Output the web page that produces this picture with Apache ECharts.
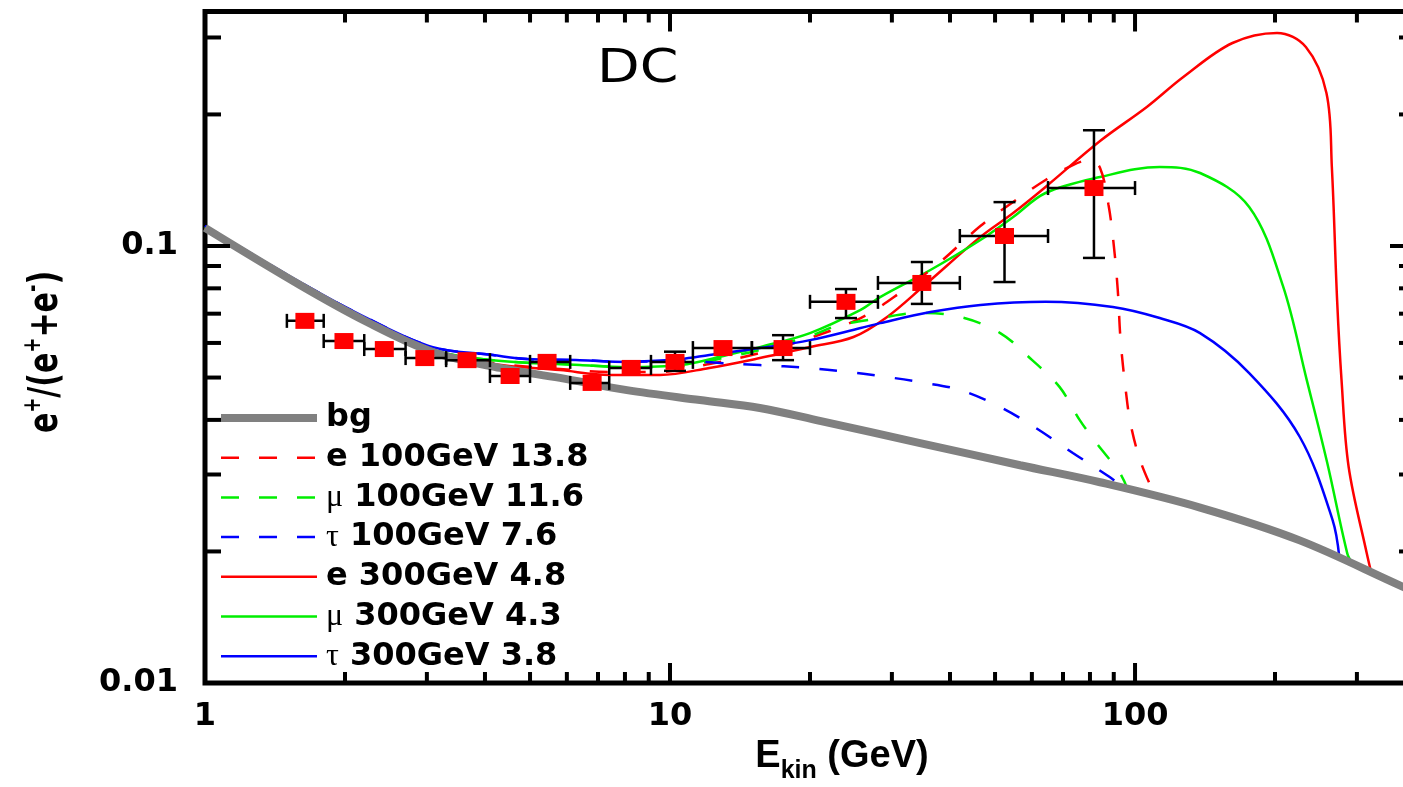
<!DOCTYPE html>
<html>
<head>
<meta charset="utf-8">
<script src="https://cdn.jsdelivr.net/npm/echarts@6.0.0/dist/echarts.min.js"></script>
<style>
html,body{margin:0;padding:0;background:#ffffff;}
#chart{width:1403px;height:787px;}
</style>
</head>
<body>
<div id="chart"></div>
<script>
// ---------------- DATA ----------------
const X_MIN = 1, X_MAX = 400;
const Y_MIN = 0.01, Y_MAX = 0.344;

const xTicksMajor = [10, 100];
const xTicksMinor = [2, 3, 4, 5, 6, 7, 8, 9, 20, 30, 40, 50, 60, 70, 80, 90, 200, 300];
const yTicksMajor = [0.1];
const yTicksMinor = [0.02, 0.03, 0.04, 0.05, 0.06, 0.07, 0.08, 0.09, 0.2, 0.3];

// measured positron fraction (red squares)
const dataE  = [1.64, 1.99, 2.43, 2.97, 3.66, 4.53, 5.44, 6.8, 8.25, 10.25, 13.0, 17.5, 23.9, 34.8, 52.4, 81.6];
const dataV  = [0.0674, 0.0606, 0.0581, 0.0554, 0.0548, 0.0504, 0.0543, 0.0486, 0.0526, 0.0543, 0.0584, 0.0584, 0.0745, 0.0823, 0.1054, 0.1357];
const binLo  = [1.5, 1.8, 2.2, 2.7, 3.3, 4.1, 5.0, 6.1, 7.4, 9.1, 11.2, 15, 20, 28, 42, 65];
const binHi  = [1.8, 2.2, 2.7, 3.3, 4.1, 5.0, 6.1, 7.4, 9.1, 11.2, 15, 20, 28, 42, 65, 100];
const errLo  = [0.0660, 0.0593, 0.0568, 0.0541, 0.0535, 0.0492, 0.0530, 0.0474, 0.0513, 0.0518, 0.0562, 0.0548, 0.0684, 0.0737, 0.0827, 0.0939];
const errHi  = [0.0688, 0.0619, 0.0594, 0.0567, 0.0561, 0.0516, 0.0556, 0.0498, 0.0539, 0.0573, 0.0606, 0.0625, 0.0797, 0.0919, 0.1260, 0.1840];

// model curves [E (GeV), e+/(e+ + e-)]
const bgCurve = [[1,0.1100],[1.6,0.0814],[2.23,0.0670],[3.09,0.0572],[4.31,0.0526],[5.8,0.0499],[8.08,0.0468],[11.6,0.0444],[15.6,0.0426],[21.0,0.0398],[34.5,0.0354],[56.6,0.0315],[84.1,0.0288],[138,0.0252],[226,0.0212],[377,0.0166],[400,0.0162]];
const e100Curve = [[1,0.1100],[1.6,0.0814],[2.23,0.0674],[3.09,0.0575],[4.16,0.0540],[5.8,0.0523],[7.42,0.0515],[9.51,0.0515],[12.15,0.0537],[15.6,0.0569],[20.0,0.0616],[25.7,0.0684],[31.2,0.0781],[38.1,0.0919],[46.5,0.1111],[54.7,0.1261],[64.2,0.1416],[73.5,0.1532],[79.9,0.1573],[84.1,0.1509],[87.7,0.1241],[90.0,0.1005],[91.8,0.0793],[93.1,0.0609],[95.5,0.0468],[97.9,0.0390],[102.9,0.0320],[110.5,0.0268]];
const mu100Curve = [[1,0.1105],[1.6,0.0818],[2.23,0.0677],[3.09,0.0578],[4.16,0.0548],[6.4,0.0534],[8.08,0.0528],[10.54,0.0531],[13.27,0.0557],[15.6,0.0578],[20.0,0.0622],[22.8,0.0656],[28.3,0.0684],[34.5,0.0703],[42.1,0.0688],[51.3,0.0632],[60.1,0.0548],[68.8,0.0476],[76.0,0.0400],[82.6,0.0354],[92.8,0.0302],[96.3,0.0278]];
const tau100Curve = [[1,0.1111],[1.6,0.0827],[2.23,0.0684],[3.09,0.0587],[4.16,0.0563],[4.93,0.0551],[6.4,0.0548],[8.08,0.0543],[10.54,0.0546],[12.8,0.0540],[15.6,0.0534],[19.8,0.0526],[24.0,0.0515],[28.3,0.0504],[34.5,0.0488],[42.1,0.0468],[51.3,0.0428],[61.3,0.0383],[73.5,0.0336],[88.2,0.0296],[94.0,0.0281]];
const e300Curve = [[1,0.1100],[1.6,0.0814],[2.23,0.0674],[3.09,0.0575],[4.16,0.0537],[5.8,0.0520],[7.42,0.0507],[9.51,0.0507],[12.15,0.0526],[15.6,0.0554],[20.0,0.0587],[24.8,0.0619],[29.3,0.0688],[35.3,0.0814],[46.5,0.1049],[54.7,0.1190],[64.2,0.1365],[84.1,0.1739],[106,0.2080],[127,0.2436],[162,0.2914],[202,0.3073],[233,0.2853],[258,0.2239],[265,0.1516],[272,0.0752],[278,0.0494],[288,0.0312],[315,0.0198],[322,0.0179]];
const mu300Curve = [[1,0.1105],[1.6,0.0818],[2.23,0.0677],[3.09,0.0578],[4.16,0.0548],[6.4,0.0534],[8.08,0.0528],[10.54,0.0534],[13.27,0.0563],[15.6,0.0587],[20.0,0.0632],[25.7,0.0714],[28.3,0.0764],[36.3,0.0881],[46.5,0.1032],[54.7,0.1165],[64.2,0.1322],[84.1,0.1438],[113,0.1516],[138,0.1469],[176,0.1228],[208,0.0810],[234,0.0494],[259,0.0319],[286,0.0198],[293,0.0188]];
const tau300Curve = [[1,0.1111],[1.6,0.0827],[2.23,0.0684],[3.09,0.0587],[4.16,0.0563],[4.93,0.0551],[6.4,0.0548],[8.08,0.0543],[10.54,0.0551],[12.15,0.0563],[15.6,0.0584],[20.0,0.0609],[25.7,0.0649],[28.3,0.0666],[36.3,0.0706],[46.5,0.0733],[64.2,0.0745],[89.6,0.0725],[113,0.0684],[138,0.0632],[176,0.0512],[226,0.0366],[266,0.0236],[275,0.0194]];

const seriesNames = ['bg', 'e 100GeV 13.8', 'μ 100GeV 11.6', 'τ 100GeV 7.6', 'e 300GeV 4.8', 'μ 300GeV 4.3', 'τ 300GeV 3.8'];
const titleText = 'DC';

// ---------------- CHART ----------------
const chart = echarts.init(document.getElementById('chart'), null, {renderer: 'canvas'});

const RED = '#ff0000', GREEN = '#00ee00', BLUE = '#0000ff', GRAY = '#808080';
const BOLD_FONT = 'DejaVu Sans';

function curve(name, data, color, dashed, z) {
  return {
    name: name, type: 'line', data: data, symbol: 'none', showSymbol: false, smooth: 0.35,
    silent: true, z: z,
    lineStyle: {color: color, width: 2.5, type: dashed ? [18, 20] : 'solid'},
    itemStyle: {color: color}
  };
}

function isPow10(v) {
  const l = Math.log10(v);
  return Math.abs(l - Math.round(l)) < 1e-6;
}

const errData = dataE.map((e, i) => [e, dataV[i], binLo[i], binHi[i], errLo[i], errHi[i]]);
const xTickData = xTicksMinor.map(t => [t, Y_MIN, 0]).concat(xTicksMajor.map(t => [t, Y_MIN, 1]));
const yTickData = yTicksMinor.map(t => [X_MIN, t, 0]).concat(yTicksMajor.map(t => [X_MIN, t, 1]));

const option = {
  animation: false,
  backgroundColor: '#ffffff',
  grid: {left: 205, right: -12, top: 11.5, bottom: 104, show: true, borderColor: '#000', borderWidth: 5,
         backgroundColor: 'transparent', outerBoundsMode: 'none', containLabel: false},
  xAxis: {
    type: 'log', logBase: 10, min: X_MIN, max: X_MAX,
    axisLine: {show: false}, axisTick: {show: false}, splitLine: {show: false}, minorTick: {show: false},
    axisLabel: {
      margin: 18, color: '#000', fontFamily: BOLD_FONT, fontWeight: 'bold', fontSize: 32,
      formatter: v => isPow10(v) ? String(Math.round(v)) : ''
    },
    name: '{b|E}{s|kin}{b| (GeV)}',
    nameLocation: 'middle', nameGap: 44,
    nameTextStyle: {
      padding: [0, 0, 0, 64],
      rich: {
        b: {fontFamily: 'Liberation Sans', fontWeight: 'bold', fontSize: 38, color: '#000', lineHeight: 54},
        s: {fontFamily: 'Liberation Sans', fontWeight: 'bold', fontSize: 25, color: '#000', lineHeight: 54, verticalAlign: 'bottom'}
      }
    }
  },
  yAxis: {
    type: 'log', logBase: 10, min: Y_MIN, max: Y_MAX,
    axisLine: {show: false}, axisTick: {show: false}, splitLine: {show: false}, minorTick: {show: false},
    axisLabel: {
      margin: 27, color: '#000', fontFamily: BOLD_FONT, fontWeight: 'bold', fontSize: 32,
      formatter: v => isPow10(v) ? String(+v.toPrecision(2)) : ''
    }
  },
  legend: {
    orient: 'vertical', left: 217, top: 402, padding: 0, itemWidth: 96, itemHeight: 14, itemGap: 7.7,
    selectedMode: false,
    itemStyle: {opacity: 0},
    lineStyle: {width: 'inherit'},
    data: seriesNames,
    formatter: name => {
      const first = name.charAt(0);
      if (first === 'μ' || first === 'τ') return '{g|' + first + '}{b|' + name.slice(1) + '}';
      return '{b|' + name + '}';
    },
    textStyle: {
      padding: [0, 0, 0, 4],
      rich: {
        b: {fontFamily: BOLD_FONT, fontWeight: 'bold', fontSize: 32, color: '#000', lineHeight: 30},
        g: {fontFamily: 'Liberation Serif', fontWeight: 'normal', fontSize: 32, color: '#000', lineHeight: 30}
      }
    }
  },
  graphic: [
    {type: 'text', x: 597, y: 70, scaleX: 1.18, silent: true,
     style: {text: titleText, font: 'normal 47px "DejaVu Sans"', fill: '#000', align: 'left', verticalAlign: 'middle'}},
    {type: 'text', x: 46, y: 352, rotation: Math.PI / 2, scaleY: 1.35, silent: true,
     style: {
       text: '{b|e}{p|+}{b|/(e}{p|+}{b|+e}{p|-}{b|)}', align: 'center', verticalAlign: 'middle',
       rich: {
         b: {fontFamily: BOLD_FONT, fontWeight: 'bold', fontSize: 30, fill: '#000', lineHeight: 36},
         p: {fontFamily: BOLD_FONT, fontWeight: 'bold', fontSize: 18, fill: '#000', lineHeight: 36, verticalAlign: 'top'}
       }
     }}
  ],
  series: [
    Object.assign(curve(seriesNames[0], bgCurve, GRAY, false, 4), {lineStyle: {color: GRAY, width: 8}}),
    curve(seriesNames[1], e100Curve, RED, true, 3),
    curve(seriesNames[2], mu100Curve, GREEN, true, 3),
    curve(seriesNames[3], tau100Curve, BLUE, true, 3),
    curve(seriesNames[4], e300Curve, RED, false, 2),
    curve(seriesNames[5], mu300Curve, GREEN, false, 2),
    curve(seriesNames[6], tau300Curve, BLUE, false, 3),
    {
      name: 'errors', type: 'custom', silent: true, z: 6, encode: {x: 0, y: 1},
      data: errData,
      renderItem: function (params, api) {
        const E = api.value(0), v = api.value(1);
        const pL = api.coord([api.value(2), v]), pR = api.coord([api.value(3), v]);
        const pB = api.coord([E, api.value(4)]), pT = api.coord([E, api.value(5)]);
        const st = {stroke: '#000', lineWidth: 2.5};
        const ch = [
          {type: 'line', shape: {x1: pL[0], y1: pL[1], x2: pR[0], y2: pR[1]}, style: st},
          {type: 'line', shape: {x1: pL[0], y1: pL[1] - 7, x2: pL[0], y2: pL[1] + 7}, style: st},
          {type: 'line', shape: {x1: pR[0], y1: pR[1] - 7, x2: pR[0], y2: pR[1] + 7}, style: st}
        ];
        if (pB[1] - pT[1] > 16) {
          ch.push({type: 'line', shape: {x1: pB[0], y1: pB[1], x2: pT[0], y2: pT[1]}, style: st});
          ch.push({type: 'line', shape: {x1: pT[0] - 11, y1: pT[1], x2: pT[0] + 11, y2: pT[1]}, style: st});
          ch.push({type: 'line', shape: {x1: pB[0] - 11, y1: pB[1], x2: pB[0] + 11, y2: pB[1]}, style: st});
        }
        return {type: 'group', children: ch};
      }
    },
    {
      name: 'data', type: 'scatter', silent: true, z: 7,
      data: dataE.map((e, i) => [e, dataV[i]]),
      symbol: 'rect', symbolSize: [19, 16],
      itemStyle: {color: RED, opacity: 1}
    },
    {
      name: 'xticks', type: 'custom', silent: true, z: 8, encode: {x: 0, y: 1},
      data: xTickData,
      renderItem: function (params, api) {
        const t = api.value(0), major = api.value(2);
        const pB = api.coord([t, Y_MIN]), pT = api.coord([t, Y_MAX]);
        const len = major ? 20 : 11;
        const st = {stroke: '#000', lineWidth: 4};
        return {type: 'group', children: [
          {type: 'line', shape: {x1: pB[0], y1: pB[1], x2: pB[0], y2: pB[1] - len}, style: st},
          {type: 'line', shape: {x1: pT[0], y1: pT[1], x2: pT[0], y2: pT[1] + len}, style: st}
        ]};
      }
    },
    {
      name: 'yticks', type: 'custom', silent: true, z: 8, encode: {x: 0, y: 1},
      data: yTickData,
      renderItem: function (params, api) {
        const t = api.value(1), major = api.value(2);
        const pL = api.coord([X_MIN, t]), pR = api.coord([X_MAX, t]);
        const len = major ? 25 : 16;
        const st = {stroke: '#000', lineWidth: 4};
        return {type: 'group', children: [
          {type: 'line', shape: {x1: pL[0], y1: pL[1], x2: pL[0] + len, y2: pL[1]}, style: st},
          {type: 'line', shape: {x1: pR[0], y1: pR[1], x2: pR[0] - len, y2: pR[1]}, style: st}
        ]};
      }
    }
  ]
};

chart.setOption(option);
</script>
</body>
</html>
